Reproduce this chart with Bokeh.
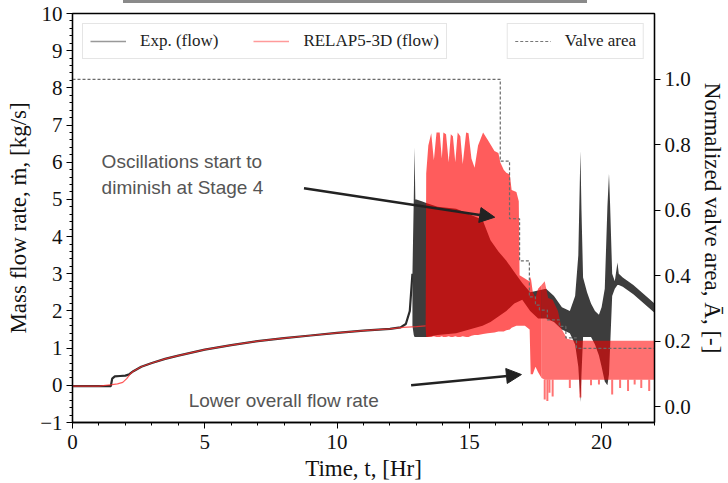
from bokeh.plotting import figure
from bokeh.models import (Range1d, LinearAxis, Legend, LegendItem, Arrow, NormalHead,
                          Label, FixedTicker, CustomJSTickFormatter, Div)
from bokeh.layouts import column
from bokeh.embed import file_html
from bokeh.resources import INLINE

# ---------------- data ----------------
exp_t = [0, 0.5, 1.0, 1.45, 1.5, 1.6, 1.8, 2.0, 2.15, 2.3, 2.6, 3.0, 3.5, 4.0, 5.0, 6.0,
         7.0, 8.0, 9.0, 10.0, 11.0, 12.0, 12.4, 12.6, 12.75, 12.85]
exp_m = [-0.02, -0.02, -0.02, -0.02, 0.18, 0.24, 0.25, 0.26, 0.3, 0.38, 0.5, 0.6, 0.71, 0.8,
         0.96, 1.08, 1.19, 1.27, 1.34, 1.41, 1.47, 1.52, 1.56, 1.65, 2.0, 3.0]

relap_t = [0, 0.5, 1.0, 1.5, 1.7, 1.9, 2.05, 2.2, 2.3, 2.6, 3.0, 3.5, 4.0, 5.0, 6.0,
           7.0, 8.0, 9.0, 10.0, 11.0, 12.0, 12.5, 13.0, 13.35]
relap_m = [-0.02, -0.02, -0.02, 0.02, 0.04, 0.08, 0.18, 0.32, 0.38, 0.5, 0.6, 0.71, 0.8,
           0.96, 1.08, 1.19, 1.27, 1.34, 1.41, 1.47, 1.52, 1.56, 1.58, 1.6]

exp_band_t = [12.85, 12.9, 12.93, 12.96, 13.0, 13.2, 13.4, 13.8, 14.5, 15.0, 15.5, 15.8,
              16.1, 16.4, 16.7, 17.0, 17.3, 17.6, 17.9, 18.2, 18.5, 18.8, 19.0, 19.12,
              19.2, 19.24, 19.3, 19.45, 19.6, 19.75, 19.9, 20.0, 20.12, 20.22, 20.28, 20.32,
              20.4, 20.5, 20.6, 20.65, 20.8, 21.2, 21.6, 22.0]
exp_band_hi = [3.0, 5.0, 6.4, 5.0, 5.0, 4.95, 4.9, 4.8, 4.75, 4.6, 4.45, 3.9,
               3.6, 3.35, 3.05, 2.75, 2.5, 2.55, 2.6, 2.4, 2.1, 2.0, 2.4, 3.5,
               6.3, 4.7, 2.9, 2.5, 2.2, 2.0, 1.9, 2.1, 2.6, 4.8, 5.7, 4.9,
               3.0, 2.8, 3.3, 3.0, 2.9, 2.7, 2.45, 2.2]
exp_band_lo = [1.6, 1.35, 1.3, 1.3, 1.3, 1.3, 1.3, 1.35, 1.4, 1.5, 1.6, 1.7,
               1.85, 2.0, 2.2, 2.3, 2.0, 1.8, 1.8, 1.7, 1.5, 1.4, 1.1, 0.5,
               -0.45, 0.3, 1.3, 1.3, 1.3, 1.1, 0.8, 0.5, 0.1, 0.0, 0.3, 1.0,
               2.4, 2.6, 2.7, 2.7, 2.65, 2.45, 2.2, 1.95]

# RELAP5-3D oscillation envelope, stages 1-4 (dense part)
relap_band_t = [13.35, 13.37, 13.45, 13.56, 13.66, 13.76, 13.88, 13.96, 14.02, 14.12, 14.22,
                14.3, 14.38, 14.47, 14.56, 14.66, 14.75, 14.88, 14.97, 15.08, 15.2, 15.33,
                15.52, 15.7, 15.95, 16.1, 16.17, 16.3, 16.4, 16.53, 16.6, 16.78, 16.87,
                16.9, 17.1, 17.28, 17.32, 17.4, 17.5, 17.6, 17.73]
relap_band_hi = [1.6, 5.7, 6.45, 6.78, 6.05, 6.8, 6.8, 6.1, 6.8, 6.75, 6.0,
                 6.75, 6.7, 6.0, 6.8, 6.7, 5.95, 6.8, 6.78, 6.1, 5.85, 6.45,
                 6.8, 6.6, 6.3, 6.25, 6.0, 5.8, 5.72, 5.67, 5.25, 5.2, 4.95,
                 2.96, 2.87, 2.79, 2.92, 2.5, 2.35, 2.6, 2.7]
relap_band_lo = [1.55, 1.3, 1.3, 1.3, 1.32, 1.3, 1.3, 1.32, 1.3, 1.3, 1.32,
                 1.3, 1.3, 1.32, 1.3, 1.3, 1.32, 1.3, 1.3, 1.33, 1.35, 1.35,
                 1.38, 1.4, 1.42, 1.45, 1.45, 1.45, 1.48, 1.5, 1.55, 1.6, 1.6,
                 1.6, 1.6, 1.5, 0.3, 0.3, 0.5, 0.35, 0.2]

# RELAP5-3D envelope, later stages (sparser oscillations)
relap_late_t = [17.73, 17.85, 17.98, 18.15, 18.35, 18.5, 18.7, 19.0, 20.0, 21.0, 22.0]
relap_late_hi = [2.7, 2.8, 2.35, 2.3, 2.0, 1.5, 1.25, 1.2, 1.2, 1.2, 1.2]
relap_late_lo = [0.2, 0.15, 0.15, 0.15, 0.15, 0.15, 0.15, 0.15, 0.15, 0.15, 0.15]

relap_spike_t = [17.85, 17.95, 18.03, 18.15, 18.8, 19.2, 19.6, 19.9, 20.4, 20.7, 21.0, 21.25, 21.5, 21.8]
relap_spike_top = [0.15] * 14
relap_spike_bot = [-0.38, -0.42, -0.2, -0.3, -0.07, -0.33, 0.0, 0.02, -0.25, -0.07, -0.15, 0.02, -0.07, -0.15]

valve_t = [0, 16.17, 16.52, 16.9, 17.27, 17.5, 17.65, 17.95, 18.4, 18.65, 19.05, 22]
valve_a = [1.0, 0.75, 0.574, 0.445, 0.335, 0.31, 0.295, 0.265, 0.245, 0.21, 0.178, 0.178]

x_ticks = [0, 5, 10, 15, 20]
area_ticks = [0.0, 0.2, 0.4, 0.6, 0.8, 1.0]

SERIF = "Liberation Serif"
SANS = "Liberation Sans"
NAN = float("nan")

p = figure(width=728, height=480, output_backend="svg", toolbar_location=None,
           x_range=Range1d(0, 22), y_range=Range1d(-1, 10),
           min_border_left=72, min_border_right=74, min_border_top=10, min_border_bottom=58)
p.extra_y_ranges = {"area": Range1d(-0.0485, 1.201)}
p.grid.visible = False
p.outline_line_color = "black"
p.outline_line_width = 1.3
p.background_fill_color = "white"

# data glyphs
p.line(exp_t, exp_m, color="#2b2b2b", line_width=2.2)
p.varea(x=exp_band_t, y1=exp_band_lo, y2=exp_band_hi, fill_color="#3d3d3d", fill_alpha=1.0)
p.line(relap_t, relap_m, color="#ff3030", line_width=1.2, alpha=0.8)
p.varea(x=relap_band_t, y1=relap_band_lo, y2=relap_band_hi, fill_color="#ff0000", fill_alpha=0.64)
p.varea(x=relap_late_t, y1=relap_late_lo, y2=relap_late_hi, fill_color="#ff0000", fill_alpha=0.56)
p.segment(x0=relap_spike_t, y0=relap_spike_top, x1=relap_spike_t, y1=relap_spike_bot,
          color="#ff0000", alpha=0.55, line_width=2)
p.step(valve_t, valve_a, mode="after", y_range_name="area",
       color="#6a6a6a", line_dash="3 2", line_width=1.2)

# legend proxies (no visible data)
leg_exp = p.line(x=[NAN], y=[NAN], color="#999999", line_width=1.5)
leg_relap = p.line(x=[NAN], y=[NAN], color="#ff9a9a", line_width=1.5)
leg_valve = p.line(x=[NAN], y=[NAN], color="#777777", line_dash="3 2", line_width=1.2)

def style_legend(lg):
    lg.orientation = "horizontal"
    lg.glyph_width = 36
    lg.glyph_height = 16
    lg.label_height = 16
    lg.label_standoff = 14
    lg.padding = 7
    lg.spacing = 35
    lg.margin = 10
    lg.label_text_font = SERIF
    lg.label_text_font_size = "17px"
    lg.label_text_color = "#222222"
    lg.border_line_color = "#cccccc"
    lg.border_line_width = 1
    lg.background_fill_alpha = 0.85

lg1 = Legend(items=[LegendItem(label="Exp. (flow)", renderers=[leg_exp]),
                    LegendItem(label="RELAP5-3D (flow)", renderers=[leg_relap])],
             location="top_left")
style_legend(lg1)
lg2 = Legend(items=[LegendItem(label="Valve area", renderers=[leg_valve])],
             location="top_right")
style_legend(lg2)
p.add_layout(lg1)
p.add_layout(lg2)

# annotations
p.add_layout(Label(x=1.1, y=6.02, text="Oscillations start to", text_font=SANS,
                   text_font_size="19px", text_color="#555555", text_baseline="alphabetic"))
p.add_layout(Label(x=1.1, y=5.33, text="diminish at Stage 4", text_font=SANS,
                   text_font_size="19px", text_color="#555555", text_baseline="alphabetic"))
p.add_layout(Label(x=4.39, y=-0.41, text="Lower overall flow rate", text_font=SANS,
                   text_font_size="19px", text_color="#555555", text_baseline="alphabetic"))
p.add_layout(Arrow(x_start=8.75, y_start=5.30, x_end=15.96, y_end=4.52, line_width=2.5,
                   line_color="#222222",
                   end=NormalHead(size=15, fill_color="#222222", line_color="#222222")))
p.add_layout(Arrow(x_start=12.8, y_start=0.0, x_end=16.97, y_end=0.29, line_width=2.5,
                   line_color="#222222",
                   end=NormalHead(size=15, fill_color="#222222", line_color="#222222")))

# axes
def style_axis(ax):
    ax.axis_line_color = "black"
    ax.axis_line_width = 1.3
    ax.major_tick_line_color = "black"
    ax.minor_tick_line_color = "black"
    ax.major_tick_in = 0
    ax.major_tick_out = 6
    ax.minor_tick_in = 0
    ax.minor_tick_out = 3
    ax.major_label_text_font = SERIF
    ax.major_label_text_font_size = "21px"
    ax.major_label_text_color = "#111111"
    ax.axis_label_text_font = SERIF
    ax.axis_label_text_font_size = "23px"
    ax.axis_label_text_font_style = "normal"
    ax.axis_label_text_color = "#111111"

xa = p.xaxis[0]
style_axis(xa)
xa.ticker = FixedTicker(ticks=x_ticks, minor_ticks=list(range(0, 23)))
xa.axis_label = "Time, t, [Hr]"
xa.axis_label_standoff = 4
xa.major_label_standoff = 6

ya = p.yaxis[0]
style_axis(ya)
ya.ticker.desired_num_ticks = 11
ya.ticker.num_minor_ticks = 5
ya.formatter = CustomJSTickFormatter(code="return (tick < 0 ? '\u2212' : '') + Math.abs(tick).toFixed(0);")
ya.axis_label = "Mass flow rate, \u1e41, [kg/s]"
ya.axis_label_standoff = 6
ya.major_label_standoff = 4

ra = LinearAxis(y_range_name="area", axis_label="Normalized valve area, \u0100, [-]")
style_axis(ra)
ra.ticker = FixedTicker(ticks=area_ticks)
ra.minor_tick_line_color = None
ra.formatter = CustomJSTickFormatter(code="return tick.toFixed(1);")
ra.axis_label_standoff = 6
ra.major_label_standoff = 4
p.add_layout(ra, "right")

bar = Div(text="<div style='position:absolute;left:123px;top:0px;width:464px;height:3px;background:#8a8a8a'></div>",
          width=728, height=3, margin=0)

layout = column(bar, p, spacing=0)
open("out.html", "w").write(file_html(layout, INLINE))
